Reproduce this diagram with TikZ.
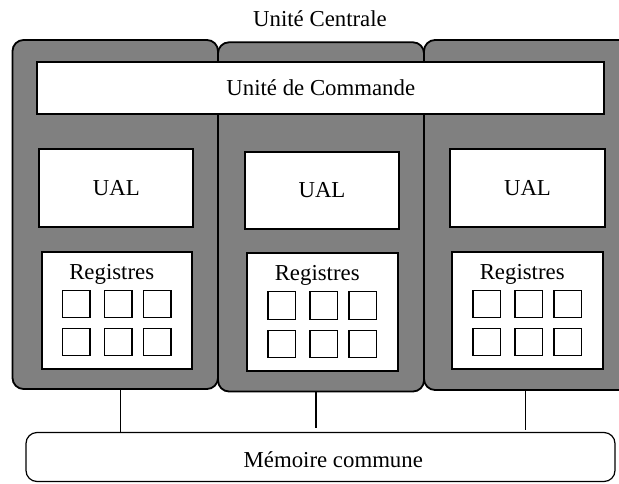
\documentclass[tikz,border=0pt]{standalone}
\usepackage{fontspec}
\setmainfont{Liberation Serif}
\usetikzlibrary{positioning}

\begin{document}
\begin{tikzpicture}[x=1pt,y=-1pt,
  every node/.style={font=\fontsize{22.8}{27}\selectfont,inner sep=0pt,outer sep=0pt},
  cpu/.style={draw,line width=1.8pt,fill=gray,rounded corners=11pt},
  box/.style={draw,line width=1.8pt,fill=white},
  cell/.style={draw,line width=1.1pt,fill=white,minimum size=27.5pt},
  bus/.style={line width=1.5pt}]
\useasboundingbox (0,0) rectangle (619,483);

\node (titre) at (320,19) {Unité Centrale};

% les trois processeurs
\node[cpu,minimum width=205.5pt,minimum height=349pt] (cpu1) at (115.25,214.5) {};
\node[cpu,minimum width=206pt,minimum height=349.2pt] (cpu2) at (321,216.9) {};
\node[cpu,minimum width=236pt,minimum height=350pt] (cpu3) at (542,215) {};

\node[box,minimum width=567pt,minimum height=52.6pt] (cmd) at (320.8,88) {Unité de Commande};

\node[box,minimum width=154pt,minimum height=77.4pt] (ual1) at (116.3,188) {UAL};
\node[box,minimum width=154pt,minimum height=77pt] (ual2) at (322,190.2) {UAL};
\node[box,minimum width=154.4pt,minimum height=77.4pt] (ual3) at (527.5,188) {UAL};

\node[box,minimum width=150pt,minimum height=117.3pt] (reg1) at (116.7,310.35) {};
\node[box,minimum width=151pt,minimum height=117.7pt] (reg2) at (322.2,312.15) {};
\node[box,minimum width=151pt,minimum height=117.3pt] (reg3) at (527.2,310.35) {};

\foreach \r in {1,2,3} {
  \node[anchor=base] (lreg\r) at ([shift={(-5,27.6)}]reg\r.north) {Registres};
  \foreach \i/\dx in {1/-40.5,2/1.5,3/40.5} {
    \foreach \j/\dy in {1/-6.5,2/31.8} {
      \node[cell] (r\r-\j\i) at ([shift={(\dx,\dy)}]reg\r.center) {};
    }
  }
}

% memoire partagee
\node[draw,line width=1.2pt,rounded corners=11pt,minimum width=589pt,minimum height=49pt] (mem) at (320.5,457) {};
\node (lmem) at (333.3,460) {Mémoire commune};

\coordinate (tap1) at (120.7,432.5);
\coordinate (tap2) at (316,428);
\coordinate (tap3) at (525.7,430);
\foreach \x in {1,2,3} {
  \draw[bus] (cpu\x.south -| tap\x) -- (tap\x);
}
\end{tikzpicture}
\end{document}
